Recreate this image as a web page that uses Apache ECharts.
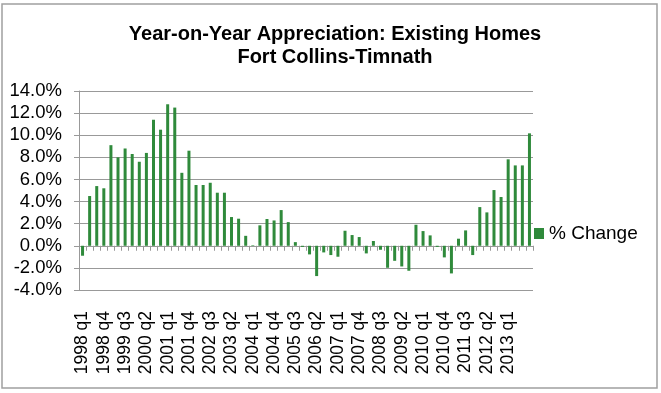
<!DOCTYPE html>
<html>
<head>
<meta charset="utf-8">
<script src="https://cdn.jsdelivr.net/npm/echarts@6/dist/echarts.min.js"></script>
<style>
html,body{margin:0;padding:0;background:#fff;}
#chart{width:661px;height:393px;}
</style>
</head>
<body>
<div id="chart"></div>
<script>
const titleLines = ["Year-on-Year Appreciation: Existing Homes", "Fort Collins-Timnath"];
const seriesName = "% Change";
const categories = [
  "1998 q1","1998 q2","1998 q3","1998 q4",
  "1999 q1","1999 q2","1999 q3","1999 q4",
  "2000 q1","2000 q2","2000 q3","2000 q4",
  "2001 q1","2001 q2","2001 q3","2001 q4",
  "2002 q1","2002 q2","2002 q3","2002 q4",
  "2003 q1","2003 q2","2003 q3","2003 q4",
  "2004 q1","2004 q2","2004 q3","2004 q4",
  "2005 q1","2005 q2","2005 q3","2005 q4",
  "2006 q1","2006 q2","2006 q3","2006 q4",
  "2007 q1","2007 q2","2007 q3","2007 q4",
  "2008 q1","2008 q2","2008 q3","2008 q4",
  "2009 q1","2009 q2","2009 q3","2009 q4",
  "2010 q1","2010 q2","2010 q3","2010 q4",
  "2011 q1","2011 q2","2011 q3","2011 q4",
  "2012 q1","2012 q2","2012 q3","2012 q4",
  "2013 q1","2013 q2","2013 q3","2013 q4"
];
const changeValues = [
  -0.9, 4.5, 5.4, 5.2,
  9.1, 8.0, 8.8, 8.3,
  7.6, 8.4, 11.4, 10.5,
  12.8, 12.5, 6.6, 8.6,
  5.5, 5.5, 5.7, 4.8,
  4.8, 2.6, 2.45, 0.9,
  0.05, 1.85, 2.42, 2.29,
  3.23, 2.14, 0.33, -0.1,
  -0.78, -2.74, -0.6, -0.84,
  -0.99, 1.36, 0.97, 0.79,
  -0.69, 0.43, -0.36, -1.99,
  -1.36, -1.87, -2.26, 1.9,
  1.33, 0.94, -0.1, -1.05,
  -2.5, 0.64, 1.39, -0.84,
  3.5, 3.02, 5.04, 4.41,
  7.82, 7.27, 7.27, 10.17
];
const yMin = -4, yMax = 14, yStep = 2;

const font = "'Liberation Sans', Arial, sans-serif";
const chart = echarts.init(document.getElementById('chart'), null, {renderer: 'canvas'});
chart.setOption({
  animation: false,
  backgroundColor: '#ffffff',
  graphic: [{
    type: 'rect',
    shape: {x: 2, y: 4, width: 655, height: 384},
    style: {fill: 'none', stroke: '#a0a0a0', lineWidth: 1.5},
    silent: true
  }],
  title: {
    text: titleLines.join('\n'),
    left: 330,
    top: 18,
    textAlign: 'center',
    textStyle: {fontFamily: font, fontWeight: 'bold', fontSize: 20, lineHeight: 23, color: '#000'}
  },
  legend: {
    data: [seriesName],
    left: 529,
    top: 219,
    icon: 'rect',
    itemWidth: 10,
    itemHeight: 11,
    textStyle: {fontFamily: font, fontSize: 19, color: '#000'}
  },
  grid: {left: 79, right: 128, top: 91, bottom: 103, containLabel: false, outerBoundsMode: 'none'},
  xAxis: {
    type: 'category',
    data: categories,
    boundaryGap: true,
    axisLine: {onZero: true, lineStyle: {color: '#999', width: 1}},
    axisTick: {show: true, interval: 0, length: 5, lineStyle: {color: '#999'}},
    axisLabel: {
      interval: function (idx) { return idx % 3 === 0 && idx < 63; },
      rotate: 90,
      margin: 21,
      fontFamily: font,
      fontSize: 17.5,
      color: '#000'
    },
    splitLine: {show: false}
  },
  yAxis: {
    type: 'value',
    min: yMin,
    max: yMax,
    interval: yStep,
    axisLine: {show: true, lineStyle: {color: '#999', width: 1}},
    axisTick: {show: true, length: 5, lineStyle: {color: '#999'}},
    axisLabel: {
      formatter: function (v) { return v.toFixed(1) + '%'; },
      fontFamily: font,
      fontSize: 18.5,
      color: '#000',
      margin: 17
    },
    splitLine: {show: true, lineStyle: {color: '#999', width: 1}}
  },
  series: [{
    name: seriesName,
    type: 'bar',
    data: changeValues,
    barWidth: 3,
    itemStyle: {color: '#2f8a3b'}
  }]
});
</script>
</body>
</html>
